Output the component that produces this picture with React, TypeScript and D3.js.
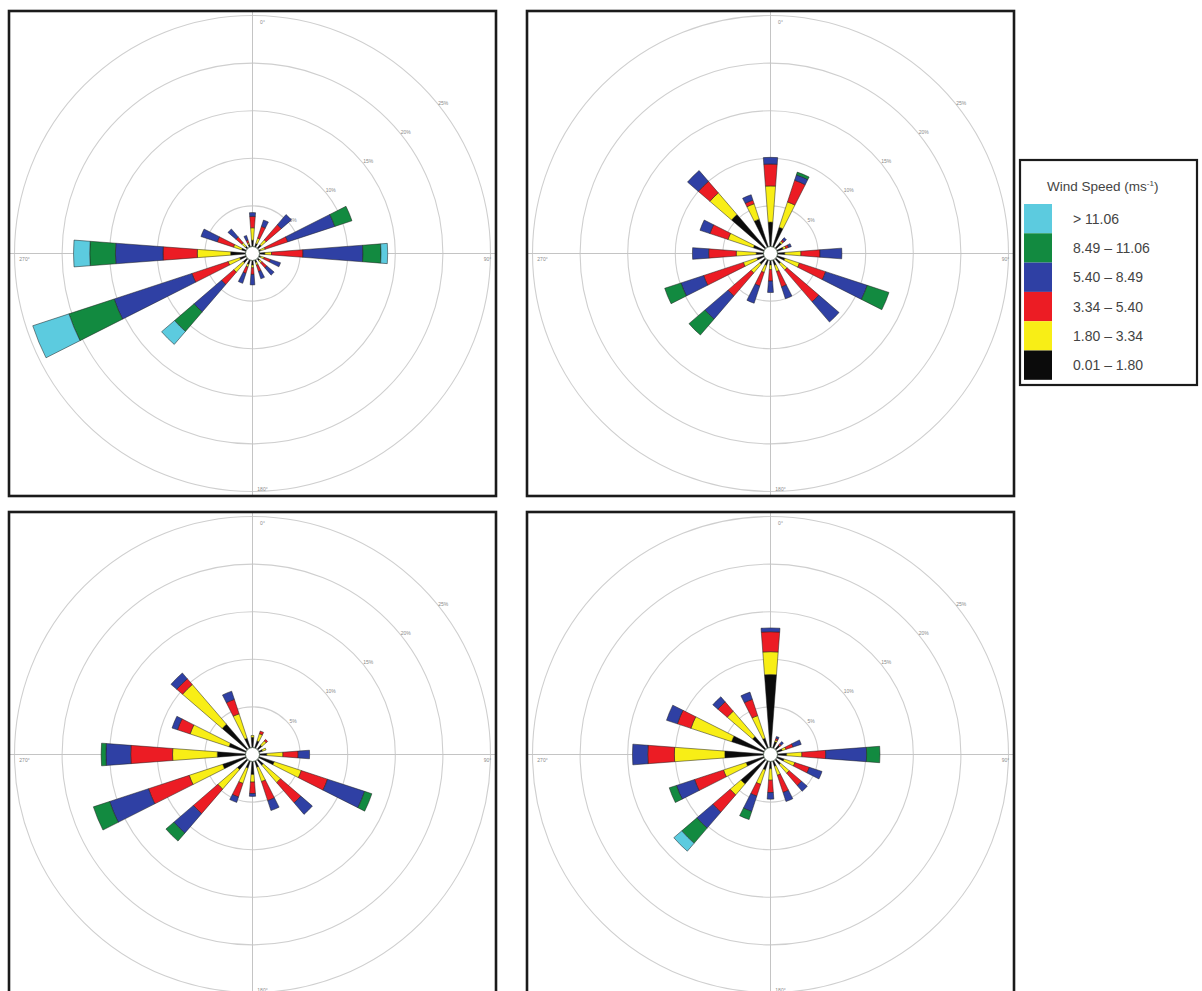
import React from "react";
import * as d3 from "d3";

// 16 compass sectors, clockwise from north
const directions = ["N", "NNE", "NE", "ENE", "E", "ESE", "SE", "SSE", "S", "SSW", "SW", "WSW", "W", "WNW", "NW", "NNW"];

// speed classes, innermost first
const speedClasses = ["0.01 – 1.80", "1.80 – 3.34", "3.34 – 5.40", "5.40 – 8.49", "8.49 – 11.06", "> 11.06"];
const classColors = ["#0b0b0b", "#f8ee16", "#ec1c24", "#2f40a4", "#128a40", "#5ccbdf"];

const ringTicks = [5, 10, 15, 20, 25];
const ringLabels = ["5%", "10%", "15%", "20%", "25%"];
const compassLabels = ["0°", "90°", "180°", "270°"];

// frequency (%) per direction: [0.01-1.80, 1.80-3.34, 3.34-5.40, 5.40-8.49, 8.49-11.06, >11.06]
const roseTopLeft = [
  [1.4, 1.3, 1.2, 0.4, 0, 0],
  [1.1, 0.6, 1.3, 0.7, 0, 0],
  [1.2, 0.7, 2.1, 1.4, 0, 0],
  [0.9, 0.5, 2.5, 5.2, 1.9, 0],
  [1.3, 0.7, 3.3, 6.3, 1.9, 0.7],
  [0.9, 0.4, 0.7, 1.1, 0, 0],
  [1.0, 0.3, 0.7, 1.0, 0, 0],
  [1.0, 0.3, 0.7, 0.8, 0, 0],
  [1.2, 0.3, 0.7, 1.1, 0, 0],
  [1.2, 0.3, 0.7, 1.1, 0, 0],
  [1.3, 1.3, 1.7, 3.8, 2.7, 1.8],
  [1.4, 1.3, 4.0, 8.6, 5.0, 4.0],
  [2.3, 3.5, 3.6, 5.0, 2.7, 1.7],
  [1.2, 0.9, 1.8, 1.8, 0, 0],
  [1.0, 0.5, 0.8, 1.1, 0, 0],
  [1.0, 0.2, 0.3, 0.5, 0, 0],
];

const roseTopRight = [
  [3.3, 3.8, 2.3, 0.7, 0, 0],
  [2.9, 2.8, 2.4, 0.6, 0.3, 0],
  [1.5, 0.2, 0.2, 0.3, 0, 0],
  [1.4, 0.3, 0.3, 0.3, 0, 0],
  [1.5, 1.7, 2.0, 2.3, 0, 0],
  [1.6, 1.6, 2.9, 4.6, 2.4, 0],
  [1.4, 0.9, 4.4, 2.8, 0, 0],
  [1.3, 0.7, 1.7, 1.3, 0, 0],
  [1.2, 0.5, 1.2, 1.2, 0, 0],
  [1.3, 0.8, 1.5, 1.9, 0, 0],
  [1.5, 1.2, 3.2, 3.2, 2.2, 0],
  [1.5, 1.5, 4.4, 2.5, 1.8, 0],
  [1.5, 2.1, 2.9, 1.7, 0, 0],
  [1.9, 2.8, 2.0, 1.1, 0, 0],
  [5.4, 3.0, 1.6, 1.5, 0, 0],
  [3.8, 1.7, 0.4, 0.6, 0, 0],
];

const roseBottomLeft = [
  [1.8, 0.2, 0, 0, 0, 0],
  [1.5, 0.8, 0.3, 0, 0, 0],
  [1.3, 0.6, 0.2, 0, 0, 0],
  [1.1, 0.4, 0, 0, 0, 0],
  [1.5, 1.7, 1.6, 1.2, 0, 0],
  [2.4, 3.0, 2.9, 4.1, 0.8, 0],
  [1.5, 2.4, 2.8, 1.6, 0, 0],
  [1.4, 1.6, 2.1, 1.1, 0, 0],
  [2.1, 0.8, 1.2, 0.3, 0, 0],
  [1.5, 1.7, 1.5, 0.6, 0, 0],
  [2.1, 2.7, 3.4, 2.7, 1.1, 0],
  [3.3, 3.7, 4.5, 4.3, 1.8, 0],
  [3.7, 4.7, 4.4, 2.6, 0.5, 0],
  [2.6, 4.3, 1.4, 0.6, 0, 0],
  [4.2, 5.5, 0.8, 0.8, 0, 0],
  [1.8, 2.7, 1.6, 0.9, 0, 0],
];

const roseBottomRight = [
  [8.4, 2.4, 2.1, 0.4, 0, 0],
  [1.4, 0.2, 0.2, 0.2, 0, 0],
  [1.3, 0, 0.2, 0.3, 0, 0],
  [1.3, 0.4, 0.8, 0.9, 0, 0],
  [1.7, 1.6, 2.5, 4.3, 1.4, 0],
  [1.5, 1.2, 1.6, 1.4, 0, 0],
  [1.4, 1.2, 1.7, 0.8, 0, 0],
  [1.3, 1.0, 1.9, 1.0, 0, 0],
  [1.5, 1.2, 1.3, 0.7, 0, 0],
  [1.7, 1.6, 1.3, 1.7, 0.9, 0],
  [4.1, 1.5, 2.4, 2.2, 2.1, 1.1],
  [2.7, 2.5, 3.2, 2.0, 0.8, 0],
  [4.8, 5.3, 2.8, 1.6, 0, 0],
  [4.3, 4.5, 1.5, 1.2, 0, 0],
  [2.5, 3.5, 1.3, 0.7, 0, 0],
  [1.8, 2.5, 1.8, 0.8, 0, 0],
];

const PANEL_W = 487;
const PANEL_H = 485;
const OUTER_R = 238;
const HOLE_R = 7;
const HALF_WIDTH = (8.6 / 2) * (Math.PI / 180);

const rScale = d3.scaleLinear().domain([0, 25]).range([0, OUTER_R]);
const angle = d3
  .scalePoint<string>()
  .domain(directions)
  .range([0, 2 * Math.PI * (15 / 16)]);

const arcGen = d3.arc<any>();

function WindRose({ data, x, y }: { data: number[][]; x: number; y: number }) {
  const cx = PANEL_W / 2;
  const cy = PANEL_H / 2;
  const labelAng = (52 * Math.PI) / 180;

  const segments: { d: string; fill: string; key: string }[] = [];
  data.forEach((row, i) => {
    const a = angle(directions[i]) as number;
    let acc = 0;
    row.forEach((v, k) => {
      const start = acc;
      acc += v;
      if (v <= 0) return;
      const d = arcGen({
        innerRadius: Math.max(HOLE_R, rScale(start)),
        outerRadius: rScale(acc),
        startAngle: a - HALF_WIDTH,
        endAngle: a + HALF_WIDTH,
      }) as string;
      segments.push({ d, fill: classColors[k], key: `${i}-${k}` });
    });
  });

  return (
    <g transform={`translate(${x},${y})`}>
      <rect x={0} y={0} width={PANEL_W} height={PANEL_H} fill="#fff" />
      <g transform={`translate(${cx},${cy})`}>
        {ringTicks.map((t) => (
          <circle key={t} r={rScale(t)} fill="none" stroke="#cfcfcf" strokeWidth={1.1} />
        ))}
        <line x1={-cx} x2={cx} y1={0} y2={0} stroke="#c4c4c4" strokeWidth={1} />
        <line x1={0} x2={0} y1={-cy} y2={cy} stroke="#c4c4c4" strokeWidth={1} />
        {ringTicks.map((t, i) => (
          <text
            key={t}
            x={(rScale(t) + 4) * Math.sin(labelAng)}
            y={-(rScale(t) + 4) * Math.cos(labelAng)}
            fontSize={5}
            fill="#8a8a8a"
            textAnchor="middle"
            fontFamily="Liberation Sans, Arial, sans-serif"
          >
            {ringLabels[i]}
          </text>
        ))}
        <text x={10} y={-230} fontSize={5} fill="#8a8a8a" textAnchor="middle" fontFamily="Liberation Sans, Arial, sans-serif">
          {compassLabels[0]}
        </text>
        <text x={235} y={7} fontSize={5} fill="#8a8a8a" textAnchor="middle" fontFamily="Liberation Sans, Arial, sans-serif">
          {compassLabels[1]}
        </text>
        <text x={10} y={237} fontSize={5} fill="#8a8a8a" textAnchor="middle" fontFamily="Liberation Sans, Arial, sans-serif">
          {compassLabels[2]}
        </text>
        <text x={-228} y={7} fontSize={5} fill="#8a8a8a" textAnchor="middle" fontFamily="Liberation Sans, Arial, sans-serif">
          {compassLabels[3]}
        </text>
        {segments.map((s) => (
          <path key={s.key} d={s.d} fill={s.fill} stroke="#1c1c1c" strokeWidth={0.5} />
        ))}
        <circle r={HOLE_R} fill="#fff" stroke="#4a5a4a" strokeWidth={0.9} />
      </g>
      <rect x={0} y={0} width={PANEL_W} height={PANEL_H} fill="none" stroke="#1b1b1b" strokeWidth={2.6} />
    </g>
  );
}

function Legend({ x, y }: { x: number; y: number }) {
  const rowH = 29.3;
  const order = d3.range(speedClasses.length).reverse();
  return (
    <g transform={`translate(${x},${y})`} fontFamily="Liberation Sans, Arial, sans-serif">
      <rect x={0} y={0} width={177} height={225} fill="#fff" stroke="#1b1b1b" strokeWidth={2.2} />
      <text x={27} y={31} fontSize={13.5} fill="#444">
        Wind Speed (ms
        <tspan fontSize={8} dy={-5}>
          -1
        </tspan>
        <tspan dy={5}>)</tspan>
      </text>
      {order.map((k, i) => (
        <g key={k} transform={`translate(0,${44 + i * rowH})`}>
          <rect x={4} y={0} width={28} height={rowH} fill={classColors[k]} />
          <text x={53} y={rowH / 2 + 5} fontSize={14} fill="#444">
            {speedClasses[k]}
          </text>
        </g>
      ))}
    </g>
  );
}

export default function App() {
  return (
    <svg
      width={1202}
      height={991}
      style={{ position: "absolute", left: 0, top: 0, background: "#fff" }}
    >
      <WindRose data={roseTopLeft} x={9} y={11} />
      <WindRose data={roseTopRight} x={527} y={11} />
      <WindRose data={roseBottomLeft} x={9} y={512} />
      <WindRose data={roseBottomRight} x={527} y={512} />
      <Legend x={1020} y={160} />
    </svg>
  );
}
